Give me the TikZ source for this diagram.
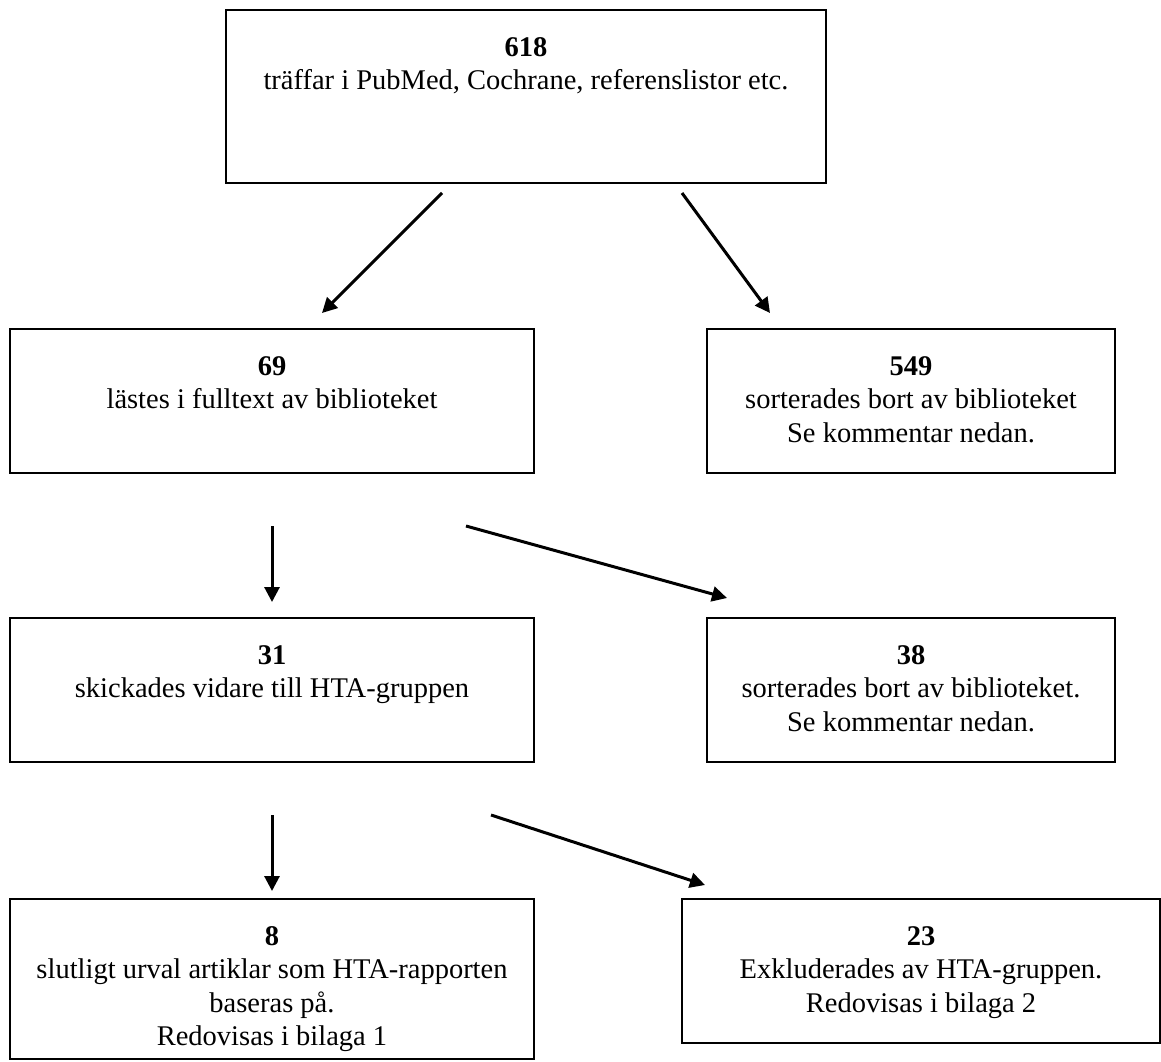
\documentclass[tikz,border=0pt]{standalone}
\usepackage{fontspec}
\setmainfont{Liberation Serif}
\usetikzlibrary{arrows.meta,positioning}
\tikzset{
  framebox/.style={draw=black,line width=2pt,inner sep=0pt},
  boxtext/.style={anchor=north,align=center,inner sep=0pt,font=\fontsize{28.5}{33.5}\selectfont},
  flow/.style={-{Triangle[length=15pt,width=15pt]},line width=3pt}
}
\begin{document}
\begin{tikzpicture}[x=1pt,y=-1pt]
\useasboundingbox (0,0) rectangle (1161,1062);
\node[framebox,minimum width=600pt,minimum height=173pt] (hits) at (526,96.5) {};
\node[framebox,minimum width=524pt,minimum height=144pt] (fulltext) at (272,401) {};
\node[framebox,minimum width=408pt,minimum height=144pt] (sorted) at (911,401) {};
\node[framebox,minimum width=524pt,minimum height=144pt] (sent) at (272,690) {};
\node[framebox,minimum width=408pt,minimum height=144pt] (sortedlib) at (911,690) {};
\node[framebox,minimum width=524pt,minimum height=160pt] (final) at (272,979) {};
\node[framebox,minimum width=478pt,minimum height=144pt] (excluded) at (921,971) {};
\node[boxtext] (hitstxt) at ([yshift=-28pt]hits.north) {\textbf{618}\\träffar i PubMed, Cochrane, referenslistor etc.};
\node[boxtext] (fulltexttxt) at ([yshift=-28pt]fulltext.north) {\textbf{69}\\lästes i fulltext av biblioteket};
\node[boxtext] (sortedtxt) at ([yshift=-28pt]sorted.north) {\textbf{549}\\sorterades bort av biblioteket\\Se kommentar nedan.};
\node[boxtext] (senttxt) at ([yshift=-28pt]sent.north) {\textbf{31}\\skickades vidare till HTA-gruppen};
\node[boxtext] (sortedlibtxt) at ([yshift=-28pt]sortedlib.north) {\textbf{38}\\sorterades bort av biblioteket.\\Se kommentar nedan.};
\node[boxtext] (finaltxt) at ([yshift=-28pt]final.north) {\textbf{8}\\slutligt urval artiklar som HTA-rapporten\\baseras på.\\Redovisas i bilaga 1};
\node[boxtext] (excludedtxt) at ([yshift=-28pt]excluded.north) {\textbf{23}\\Exkluderades av HTA-gruppen.\\Redovisas i bilaga 2};
\coordinate (hitsL) at (442,193);
\coordinate (hitsR) at (682,193);
\coordinate (fulltextL) at (272,526);
\coordinate (fulltextR) at (466,526);
\coordinate (sentL) at (272,815);
\coordinate (sentR) at (491,815);
\coordinate (fulltextin) at (322,313);
\coordinate (sortedin) at (770,313);
\coordinate (sentin) at (272,602);
\coordinate (sortedlibin) at (727,598);
\coordinate (finalin) at (272,891);
\coordinate (excludedin) at (705,885);
\draw[flow] (hitsL)--(fulltextin);
\draw[flow] (hitsR)--(sortedin);
\draw[flow] (fulltextL)--(sentin);
\draw[flow] (fulltextR)--(sortedlibin);
\draw[flow] (sentL)--(finalin);
\draw[flow] (sentR)--(excludedin);
\end{tikzpicture}
\end{document}
